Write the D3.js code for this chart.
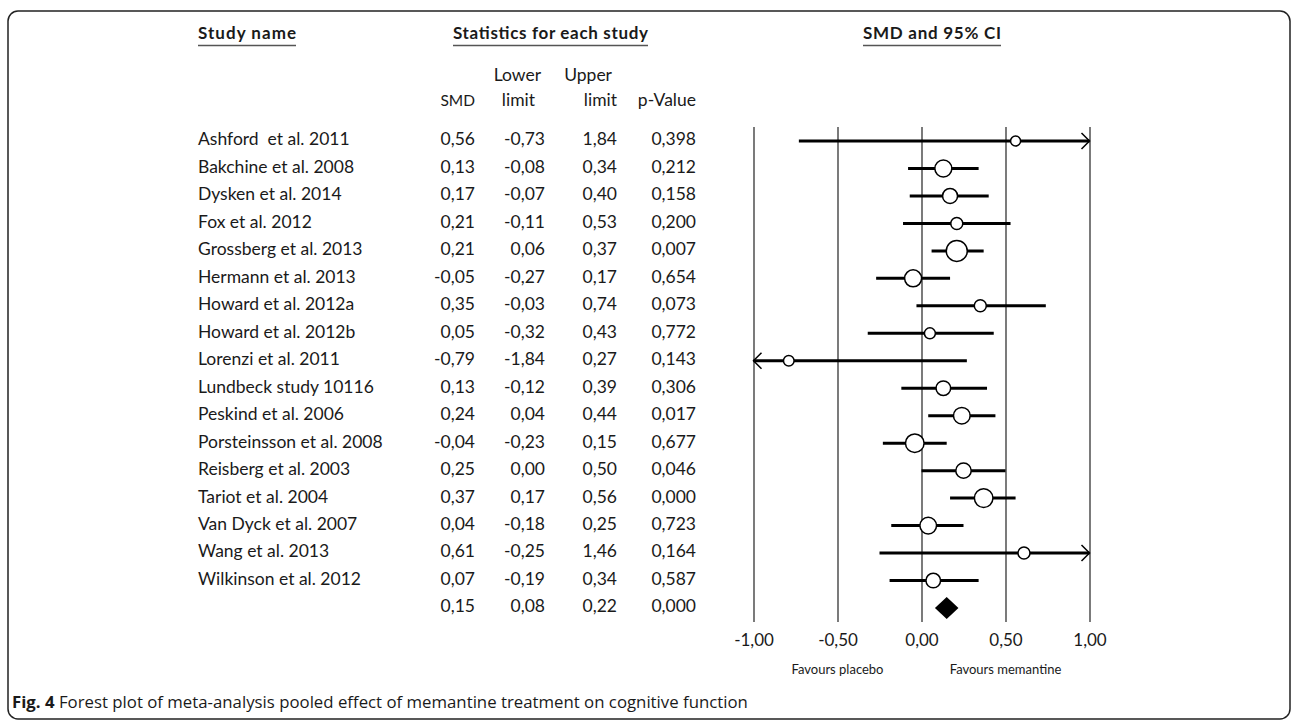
<!DOCTYPE html>
<html>
<head>
<meta charset="utf-8">
<script src="https://cdn.jsdelivr.net/npm/d3@7"></script>
<style>
  body { margin: 0; background: #fff; }
  text { font-family: Lato, "Open Sans", sans-serif; fill: #1a1a1a; white-space: pre; }
</style>
</head>
<body>
<div id="main"></div>
<script>
// **** Data ****
var studies = ["Ashford  et al. 2011", "Bakchine et al. 2008", "Dysken et al. 2014", "Fox et al. 2012",
  "Grossberg et al. 2013", "Hermann et al. 2013", "Howard et al. 2012a", "Howard et al. 2012b",
  "Lorenzi et al. 2011", "Lundbeck study 10116", "Peskind et al. 2006", "Porsteinsson et al. 2008",
  "Reisberg et al. 2003", "Tariot et al. 2004", "Van Dyck et al. 2007", "Wang et al. 2013",
  "Wilkinson et al. 2012"];
var smd   = [0.56, 0.13, 0.17, 0.21, 0.21, -0.05, 0.35, 0.05, -0.79, 0.13, 0.24, -0.04, 0.25, 0.37, 0.04, 0.61, 0.07];
var lower = [-0.73, -0.08, -0.07, -0.11, 0.06, -0.27, -0.03, -0.32, -1.84, -0.12, 0.04, -0.23, 0.00, 0.17, -0.18, -0.25, -0.19];
var upper = [1.84, 0.34, 0.40, 0.53, 0.37, 0.17, 0.74, 0.43, 0.27, 0.39, 0.44, 0.15, 0.50, 0.56, 0.25, 1.46, 0.34];
var pval  = [0.398, 0.212, 0.158, 0.200, 0.007, 0.654, 0.073, 0.772, 0.143, 0.306, 0.017, 0.677, 0.046, 0.000, 0.723, 0.164, 0.587];
// relative weights (%)
var weight = [2.5, 7.2, 5.6, 3.6, 11.0, 7.2, 3.6, 3.0, 2.8, 5.3, 6.9, 8.6, 5.9, 8.6, 6.9, 3.6, 5.3];
var pooled = {smd: 0.15, lower: 0.08, upper: 0.22, p: 0.000};
var xTicks = [-1, -0.5, 0, 0.5, 1];

var W = 1292, H = 721;

var svg = d3.select("#main")
  .append("svg")
    .attr("width", W)
    .attr("height", H);

// **** Frame ****
svg.append("rect")
  .attr("x", 8).attr("y", 11)
  .attr("width", 1282).attr("height", 708)
  .attr("rx", 10)
  .style("fill", "none")
  .style("stroke", "#222")
  .style("stroke-width", 1.5);

// **** Scales ****
var x = d3.scaleLinear().domain([-1, 1]).range([753.5, 1089.5]);
var y = d3.scaleLinear().domain([0, studies.length]).range([141, 608]);
var r = d3.scaleSqrt().domain([0, 11]).range([0, 10.5]);

var comma = function(v, n) {
  return v.toFixed(n).replace(".", ",");
};

// **** Headers ****
function header(txt, x0, x1) {
  svg.append("text")
    .attr("x", x0).attr("y", 35)
    .attr("dominant-baseline", "middle")
    .style("font-size", "17px")
    .style("font-weight", "bold")
    .attr("textLength", x1 - x0)
    .text(txt);
  svg.append("line")
    .attr("x1", x0).attr("x2", x1)
    .attr("y1", 45.5).attr("y2", 45.5)
    .style("stroke", "#555")
    .style("stroke-width", 1.5);
}
header("Study name", 198, 296);
header("Statistics for each study", 453, 648);
header("SMD and 95% CI", 863, 1001);

var colHead = [
  {t: "Lower", x: 541, y: 77}, {t: "Upper", x: 612, y: 77},
  {t: "SMD", x: 475, y: 102}, {t: "limit", x: 535, y: 102},
  {t: "limit", x: 617, y: 102}, {t: "p-Value", x: 696, y: 102}
];
svg.append("g").selectAll("text")
  .data(colHead)
  .enter()
  .append("text")
    .attr("x", function(d) { return d.x; })
    .attr("y", function(d) { return d.y; })
    .attr("text-anchor", "end")
    .attr("dominant-baseline", "middle")
    .style("font-size", function(d) { return d.t == "SMD" ? "15.5px" : "17.5px"; })
    .text(function(d) { return d.t; });

// **** Table rows ****
var rows = studies.map(function(s, i) {
  return {name: s, smd: smd[i], lo: lower[i], hi: upper[i], p: pval[i], w: weight[i], i: i};
});
var cols = [
  {key: "smd", x: 475, n: 2}, {key: "lo", x: 545, n: 2},
  {key: "hi", x: 617, n: 2}, {key: "p", x: 696, n: 3}
];

var tbl = svg.append("g").style("font-size", "17.5px");
tbl.selectAll(".name")
  .data(rows)
  .enter()
  .append("text")
    .attr("class", "name")
    .attr("x", 198)
    .attr("y", function(d) { return y(d.i); })
    .attr("dominant-baseline", "middle")
    .text(function(d) { return d.name; });

cols.forEach(function(c) {
  var vals = rows.map(function(d) { return d[c.key]; });
  vals.push(c.key == "smd" ? pooled.smd : c.key == "lo" ? pooled.lower : c.key == "hi" ? pooled.upper : pooled.p);
  tbl.append("g").selectAll("text")
    .data(vals)
    .enter()
    .append("text")
      .attr("x", c.x)
      .attr("y", function(d, i) { return y(i); })
      .attr("text-anchor", "end")
      .attr("dominant-baseline", "middle")
      .text(function(d) { return comma(d, c.n); });
});

// **** Axis and reference lines ****
var axis = svg.append("g")
  .attr("transform", "translate(0,622)")
  .call(d3.axisBottom(x).tickValues(xTicks).tickSizeInner(-495).tickSizeOuter(0)
    .tickFormat(function(d) { return comma(d, 2).replace("\u2212", "-"); }));
axis.select(".domain").remove();
axis.selectAll(".tick line").style("stroke", "#333").style("stroke-width", 1.3);
axis.selectAll(".tick text")
  .attr("y", 20).attr("dy", null)
  .attr("dominant-baseline", "middle")
  .style("font-family", "Lato, 'Open Sans', sans-serif")
  .style("font-size", "17px")
  .style("fill", "#1a1a1a");

svg.append("text")
  .attr("x", x(-0.5)).attr("y", 671)
  .attr("text-anchor", "middle").attr("dominant-baseline", "middle")
  .style("font-size", "13px")
  .text("Favours placebo");
svg.append("text")
  .attr("x", x(0.5)).attr("y", 671)
  .attr("text-anchor", "middle").attr("dominant-baseline", "middle")
  .style("font-size", "13px")
  .text("Favours memantine");

// **** CI lines, arrows and markers ****
var xmin = x.domain()[0], xmax = x.domain()[1];
var plot = svg.append("g");

plot.selectAll(".ci")
  .data(rows)
  .enter()
  .append("line")
    .attr("x1", function(d) { return x(Math.max(d.lo, xmin)); })
    .attr("x2", function(d) { return x(Math.min(d.hi, xmax)); })
    .attr("y1", function(d) { return y(d.i); })
    .attr("y2", function(d) { return y(d.i); })
    .style("stroke", "#000")
    .style("stroke-width", 3);

var arrowPath = function(d) {
  var yy = y(d.i), s = "";
  if (d.hi > xmax) {
    var xe = x(xmax);
    s += "M" + (xe - 8) + "," + (yy - 8) + "L" + xe + "," + yy + "L" + (xe - 8) + "," + (yy + 8);
  }
  if (d.lo < xmin) {
    var xs = x(xmin);
    s += "M" + (xs + 8) + "," + (yy - 8) + "L" + xs + "," + yy + "L" + (xs + 8) + "," + (yy + 8);
  }
  return s;
};
plot.selectAll(".arrow")
  .data(rows.filter(function(d) { return d.hi > xmax || d.lo < xmin; }))
  .enter()
  .append("path")
    .attr("d", arrowPath)
    .style("fill", "none")
    .style("stroke", "#000")
    .style("stroke-width", 1.5);

plot.selectAll("circle")
  .data(rows)
  .enter()
  .append("circle")
    .attr("cx", function(d) { return x(d.smd); })
    .attr("cy", function(d) { return y(d.i); })
    .attr("r", function(d) { return r(d.w); })
    .style("fill", "#fff")
    .style("stroke", "#000")
    .style("stroke-width", 1.5);

// pooled diamond
var yp = y(studies.length);
plot.append("path")
  .attr("d", "M" + x(pooled.lower) + "," + yp +
    "L" + x(pooled.smd) + "," + (yp - 11) +
    "L" + x(pooled.upper) + "," + yp +
    "L" + x(pooled.smd) + "," + (yp + 11) + "Z")
  .style("fill", "#000");

// **** Caption ****
var cap = svg.append("text")
  .attr("x", 12).attr("y", 703)
  .attr("dominant-baseline", "middle")
  .style("font-family", "'Open Sans', sans-serif")
  .style("font-size", "16.8px");
cap.append("tspan").style("font-weight", "bold").text("Fig. 4");
cap.append("tspan").text(" Forest plot of meta-analysis pooled effect of memantine treatment on cognitive function");
</script>
</body>
</html>
